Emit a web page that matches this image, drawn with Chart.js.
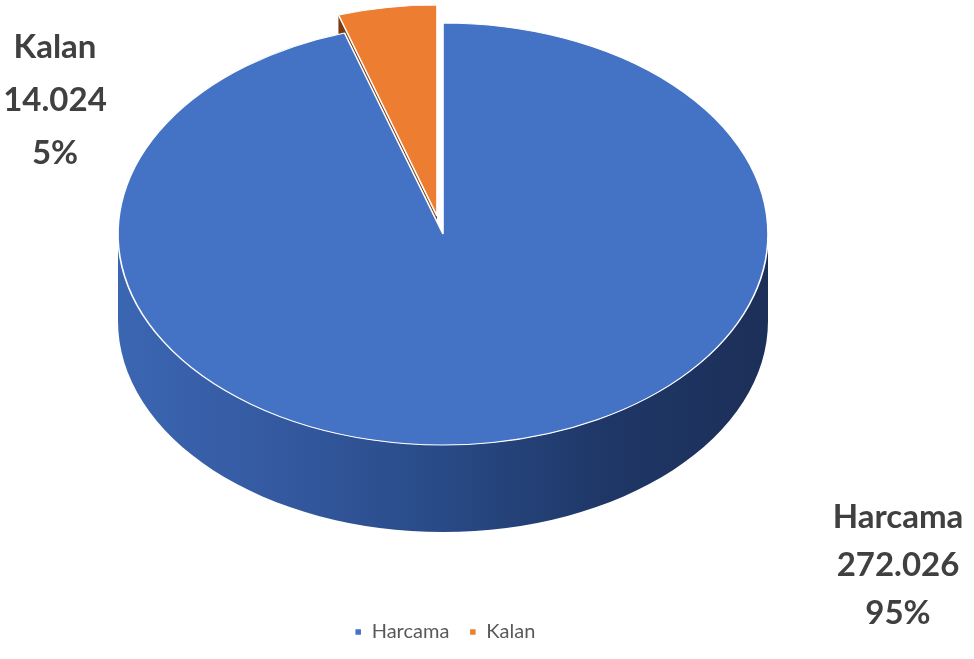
<!DOCTYPE html>
<html>
<head>
<meta charset="utf-8">
<script src="https://cdn.jsdelivr.net/npm/chart.js@4.4.1/dist/chart.umd.min.js"></script>
<style>
  html, body { margin: 0; padding: 0; background: #ffffff; }
  #wrap { width: 974px; height: 659px; }
</style>
</head>
<body>
<div id="wrap"><canvas id="pieChart" width="974" height="659"></canvas></div>
<script>
const categories = ["Harcama", "Kalan"];
const amounts = [272026, 14024];

const topColors = ["#4472C4", "#ED7D31"];
const faceColors = ["#1f3864", "#7a3a10"];

// where the tilted pie sits on the page
const PIE_CX = 443;
const PIE_CY = 234;
const PIE_RX = 325;
const PIE_RY = 211;
const PIE_DEPTH = 87;
// pulled-out slice shift (screen px)
const EXPLODE = [null, { dx: -6, dy: -18 }];

const LABEL_SPOTS = [
  { x: 898, y: 517, gap: 48 },
  { x: 55, y: 47, gap: 53 },
];

function formatTr(n) {
  return String(n).replace(/\B(?=(\d{3})+(?!\d))/g, ".");
}

function ellPoint(cx, cy, a) {
  return [cx + PIE_RX * Math.cos(a), cy + PIE_RY * Math.sin(a)];
}

const pie3d = {
  id: "pie3d",
  afterUpdate(chart) {
    const meta = chart.getDatasetMeta(0);
    meta.data.forEach((arc, i) => {
      if (!EXPLODE[i] || arc._shifted) return;
      const baseDraw = arc.draw;
      arc.draw = function (ctx) {
        const sx = PIE_RX / this.outerRadius;
        const sy = PIE_RY / this.outerRadius;
        ctx.save();
        ctx.translate(EXPLODE[i].dx / sx, EXPLODE[i].dy / sy);
        baseDraw.call(this, ctx);
        ctx.restore();
      };
      arc._shifted = true;
    });
  },
  beforeDatasetsDraw(chart) {
    const ctx = chart.ctx;
    const meta = chart.getDatasetMeta(0);
    const first = meta.data[0];
    if (!first) return;

    // side walls, drawn before the tops
    meta.data.forEach((arc, i) => {
      const shift = EXPLODE[i] || { dx: 0, dy: 0 };
      const cx = PIE_CX + shift.dx;
      const cy = PIE_CY + shift.dy;
      const a0 = arc.startAngle;
      const a1 = arc.endAngle;

      // front part of the rim (angles 0..PI)
      const from = Math.max(a0, 0);
      const to = Math.min(a1, Math.PI);
      if (to > from) {
        const grad = ctx.createLinearGradient(cx - PIE_RX, 0, cx + PIE_RX, 0);
        if (i === 0) {
          grad.addColorStop(0, "#3b66b2");
          grad.addColorStop(0.25, "#3459a0");
          grad.addColorStop(0.5, "#284a86");
          grad.addColorStop(0.75, "#1f3767");
          grad.addColorStop(1, "#1c2f58");
        } else {
          grad.addColorStop(0, "#c8651f");
          grad.addColorStop(1, "#8a4412");
        }
        ctx.save();
        ctx.beginPath();
        ctx.ellipse(cx, cy, PIE_RX, PIE_RY, 0, from, to, false);
        const e = ellPoint(cx, cy + PIE_DEPTH, to);
        ctx.lineTo(e[0], e[1]);
        ctx.ellipse(cx, cy + PIE_DEPTH, PIE_RX, PIE_RY, 0, to, from, true);
        ctx.closePath();
        ctx.fillStyle = grad;
        ctx.fill();
        ctx.restore();
      }

      // radial face at the start edge, only when it looks to the front
      if (Math.sin(a0 - Math.PI / 2) > 0 && i > 0) {
        const p = ellPoint(cx, cy, a0);
        ctx.save();
        ctx.beginPath();
        ctx.moveTo(cx, cy);
        ctx.lineTo(p[0], p[1]);
        ctx.lineTo(p[0], p[1] + PIE_DEPTH);
        ctx.lineTo(cx, cy + PIE_DEPTH);
        ctx.closePath();
        ctx.fillStyle = faceColors[i];
        ctx.fill();
        ctx.restore();
      }
    });

    // squash the library's pie into the tilted top face
    const sx = PIE_RX / first.outerRadius;
    const sy = PIE_RY / first.outerRadius;
    ctx.save();
    ctx.translate(PIE_CX, PIE_CY);
    ctx.scale(sx, sy);
    ctx.translate(-first.x, -first.y);
  },
  afterDatasetsDraw(chart) {
    chart.ctx.restore();
  },
  afterDraw(chart) {
    const ctx = chart.ctx;
    const total = amounts.reduce((s, v) => s + v, 0);
    ctx.save();
    ctx.font = "bold 33px Lato";
    ctx.fillStyle = "#404040";
    ctx.textAlign = "center";
    ctx.textBaseline = "middle";
    categories.forEach((name, i) => {
      const spot = LABEL_SPOTS[i];
      const lines = [name, formatTr(amounts[i]), Math.round((amounts[i] / total) * 100) + "%"];
      lines.forEach((txt, k) => ctx.fillText(txt, spot.x, spot.y + k * spot.gap));
    });
    ctx.restore();
  },
};

new Chart(document.getElementById("pieChart"), {
  type: "pie",
  data: {
    labels: categories,
    datasets: [
      {
        data: amounts,
        backgroundColor: topColors,
        borderColor: "#ffffff",
        borderWidth: 1.5,
      },
    ],
  },
  options: {
    responsive: false,
    animation: false,
    devicePixelRatio: 1,
    layout: { padding: { left: 0, right: 84, top: 0, bottom: 7 } },
    plugins: {
      tooltip: { enabled: false },
      legend: {
        position: "bottom",
        labels: {
          usePointStyle: true,
          pointStyle: "rect",
          boxWidth: 7,
          boxHeight: 7,
          padding: 20,
          color: "#595959",
          font: { family: "Lato", size: 20 },
        },
      },
    },
  },
  plugins: [pie3d],
});
</script>
</body>
</html>
